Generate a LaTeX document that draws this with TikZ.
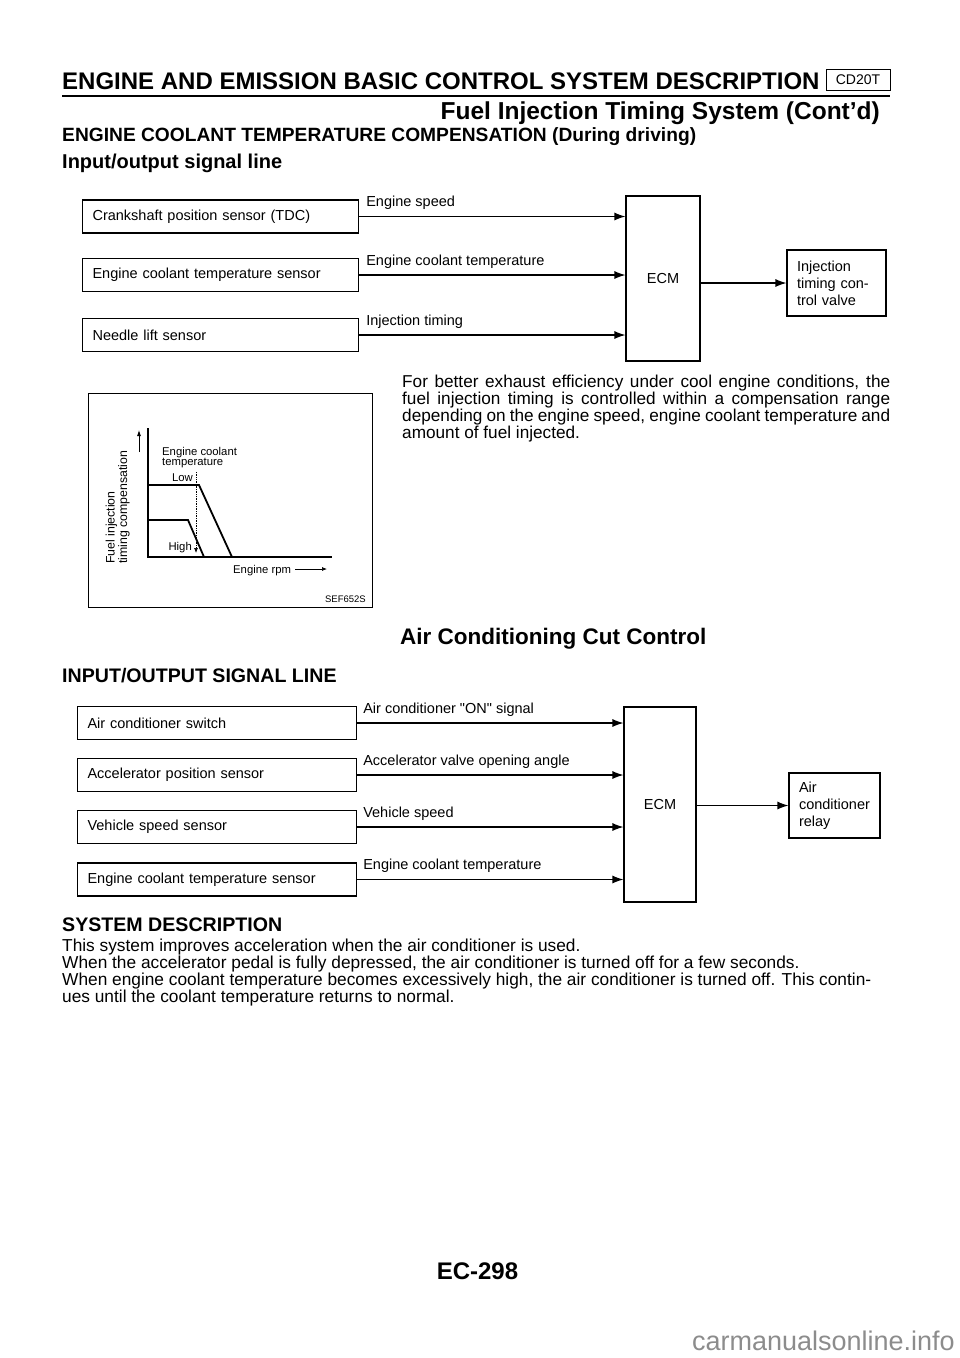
\documentclass[tikz,border=0pt]{standalone}
\usepackage{fontspec}
\setmainfont{Liberation Sans}
\usetikzlibrary{arrows.meta,calc}

\newcommand\boxsize{\fontsize{14.5}{17}\selectfont}
\newcommand\graphsize{\fontsize{11.3}{11.5}\selectfont}
\newcommand\parasize{\fontsize{17.2}{17.3}\selectfont}
\newcommand\descsize{\fontsize{17.3}{17}\selectfont}

\tikzset{
  sensor/.style={draw, line width=1.1pt, anchor=west, minimum height=33pt,
    inner xsep=10pt, text width=#1, align=left, font=\boxsize},
  sensor/.default=256pt,
  ecmbox/.style={draw, line width=1.1pt, font=\boxsize},
  outbox/.style={draw, line width=1.1pt, inner xsep=10pt, align=left, font=\boxsize},
  sig/.style={line width=1.1pt, -{Latex[length=11pt,width=8pt]}},
  siglbl/.style={anchor=base west, inner sep=0pt, font=\boxsize},
  txt/.style={anchor=base west, inner sep=0pt},
  curve/.style={line width=1.8pt, line join=miter},
  glbl/.style={inner sep=0pt, font=\graphsize}
}

\begin{document}
\begin{tikzpicture}[x=1pt,y=-1pt]
  \useasboundingbox (0,0) rectangle (960,1358);
  % page heading
  \node[txt, font=\bfseries\fontsize{24}{28}\selectfont] (title) at (62,89)
    {ENGINE AND EMISSION BASIC CONTROL SYSTEM DESCRIPTION};
  \node[draw, line width=0.8pt, minimum width=64pt, minimum height=21pt, inner sep=0pt,
    font=\fontsize{14}{17}\selectfont] (model) at (858,80) {CD20T};
  \draw[line width=2.2pt] (62,96) -- (890,96);
  \node[txt, anchor=base east, font=\bfseries\fontsize{24.5}{28}\selectfont] (sect) at (880,119)
    {Fuel Injection Timing System (Cont'd)};
  \node[txt, font=\bfseries\fontsize{19.2}{22}\selectfont] (ectc) at (62,141)
    {ENGINE COOLANT TEMPERATURE COMPENSATION (During driving)};
  \node[txt, font=\bfseries\fontsize{20}{24}\selectfont] (io1) at (62,168)
    {Input/output signal line};

  % signal lines, injection timing
  \node[sensor] (crank) at (82,216.5) {Crankshaft position sensor (TDC)};
  \node[sensor] (ects) at (82,275) {Engine coolant temperature sensor};
  \node[sensor] (needle) at (82,335) {Needle lift sensor};
  \node[ecmbox, minimum width=74pt, minimum height=165pt] (ecm) at (663,278.5) {ECM};
  \node[outbox, text width=79pt, minimum height=66pt] (itcv) at (836.5,283)
    {Injection\\timing con-\\trol valve};
  \node[siglbl] (spd) at ($(crank.east)+(7,-10)$) {Engine speed};
  \node[siglbl] (cool) at ($(ects.east)+(7,-10)$) {Engine coolant temperature};
  \node[siglbl] (tim) at ($(needle.east)+(7,-10)$) {Injection timing};
  \begin{scope}[sig]
    \draw (crank.east) -- (crank.east -| ecm.west);
    \draw (ects.east) -- (ects.east -| ecm.west);
    \draw (needle.east) -- (needle.east -| ecm.west);
    \draw (itcv.west -| ecm.east) -- (itcv.west);
  \end{scope}

  % compensation graph
  \draw[line width=1pt] (88,393) rectangle (372,607);
  \draw[line width=1.3pt] (148,428) -- (148,557) -- (332,557);
  \draw[line width=0.8pt, -{Latex[length=6pt,width=4pt]}] (139,452) -- (139,430);
  \draw[curve] (148,485) -- (199,485) -- (232,557);
  \draw[curve] (148,520) -- (188,520) -- (204,557);
  \draw[line width=0.7pt, densely dotted, -{Latex[length=5pt,width=4pt]}] (196,472) -- (196,553);
  \node[glbl, rotate=90, anchor=south west, align=left, font=\fontsize{12.3}{12.5}\selectfont] (ylab) at (130,564)
    {Fuel injection\\timing compensation};
  \node[glbl, anchor=base west] (ect1) at (162,455) {Engine coolant};
  \node[glbl, anchor=base west] (ect2) at (162,465.5) {temperature};
  \node[glbl, anchor=base east] (low) at (193,481) {Low};
  \node[glbl, anchor=base east] (high) at (192,550.5) {High};
  \node[glbl, anchor=base west] (rpm) at (233,573) {Engine rpm};
  \coordinate (rpmend) at (327,569);
  \draw[line width=0.7pt, -{Latex[length=5pt,width=4pt]}] (rpm.east |- rpmend) ++(4,0) -- (rpmend);
  \node[glbl, anchor=base east, font=\fontsize{9.5}{11}\selectfont] (ref) at (366,602) {SEF652S};

  % text at right of graph
  \node[txt, font=\parasize] (p1) at (402,387)
    {\makebox[488pt][s]{For better exhaust efficiency under cool engine conditions, the}};
  \node[txt, font=\parasize] (p2) at (402,404.3)
    {\makebox[488pt][s]{fuel injection timing is controlled within a compensation range}};
  \node[txt, font=\parasize] (p3) at (402,421.6)
    {\makebox[488pt][s]{depending on the engine speed, engine coolant temperature and}};
  \node[txt, font=\parasize] (p4) at (402,438.9)
    {amount of fuel injected.};

  % air conditioning cut control
  \node[txt, font=\bfseries\fontsize{22.5}{26}\selectfont] (accc) at (400,644)
    {Air Conditioning Cut Control};
  \node[txt, font=\bfseries\fontsize{19.6}{23}\selectfont] (io2) at (62,682)
    {INPUT/OUTPUT SIGNAL LINE};
  \node[sensor=259pt] (acsw) at (77,723) {Air conditioner switch};
  \node[sensor=259pt] (aps) at (77,775) {Accelerator position sensor};
  \node[sensor=259pt] (vss) at (77,827) {Vehicle speed sensor};
  \node[sensor=259pt] (ects2) at (77,879.5) {Engine coolant temperature sensor};
  \node[ecmbox, minimum width=72pt, minimum height=195pt] (ecm2) at (660,804.5) {ECM};
  \node[outbox, text width=71pt, minimum height=65pt] (acr) at (834.5,805.5)
    {Air\\conditioner\\relay};
  \node[siglbl] (on) at ($(acsw.east)+(6,-10)$)
    {Air conditioner \textquotedbl ON\textquotedbl{} signal};
  \node[siglbl] (ang) at ($(aps.east)+(6,-10)$) {Accelerator valve opening angle};
  \node[siglbl] (vsp) at ($(vss.east)+(6,-10)$) {Vehicle speed};
  \node[siglbl] (cool2) at ($(ects2.east)+(6,-10)$) {Engine coolant temperature};
  \begin{scope}[sig]
    \draw (acsw.east) -- (acsw.east -| ecm2.west);
    \draw (aps.east) -- (aps.east -| ecm2.west);
    \draw (vss.east) -- (vss.east -| ecm2.west);
    \draw (ects2.east) -- (ects2.east -| ecm2.west);
    \draw (acr.west -| ecm2.east) -- (acr.west);
  \end{scope}

  % system description
  \node[txt, font=\bfseries\fontsize{19.6}{23}\selectfont] (sysd) at (62,931) {SYSTEM DESCRIPTION};
  \node[txt, font=\descsize] (d1) at (62,951)
    {This system improves acceleration when the air conditioner is used.};
  \node[txt, font=\descsize] (d2) at (62,968)
    {When the accelerator pedal is fully depressed, the air conditioner is turned off for a few seconds.};
  \node[txt, font=\descsize] (d3) at (62,985)
    {When engine coolant temperature becomes excessively high, the air conditioner is turned off. This contin-};
  \node[txt, font=\descsize] (d4) at (62,1002)
    {ues until the coolant temperature returns to normal.};

  % page number and site mark
  \node[txt, anchor=base, font=\bfseries\fontsize{24}{28}\selectfont] (page) at (477.5,1279) {EC-298};
  \node[txt, anchor=base east, text=black!45, font=\fontsize{27}{30}\selectfont] (site) at (955,1350)
    {carmanualsonline.info};
\end{tikzpicture}
\end{document}
